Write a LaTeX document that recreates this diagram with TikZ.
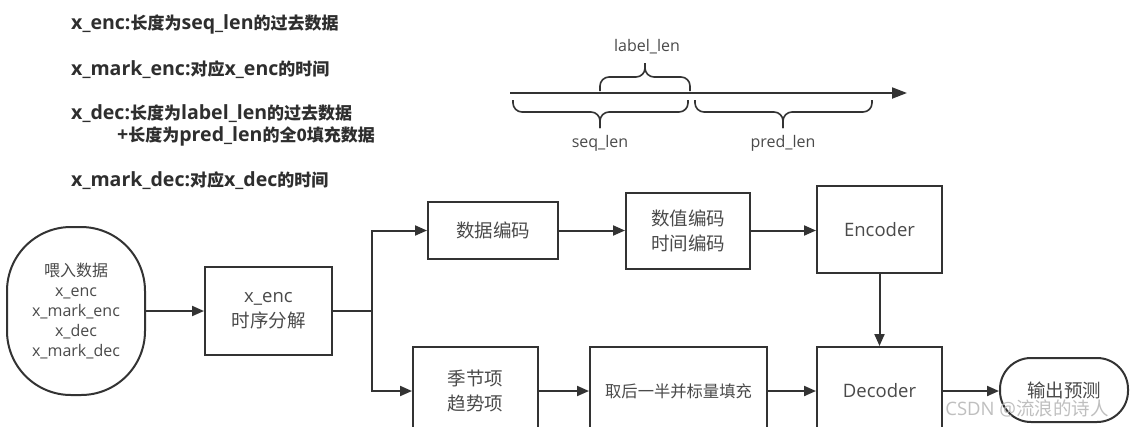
\documentclass[tikz,border=0pt]{standalone}
\usepackage{fontspec}
\setmainfont{Open Sans}
\newfontfamily\latw{Open Sans}[Scale=1.15]
\newfontfamily\cjk{Noto Sans CJK SC}
\newcommand\zh[1]{{\cjk #1}}
\usetikzlibrary{arrows.meta}
\definecolor{lc}{HTML}{333333}
\definecolor{tc}{HTML}{4A4A4A}
\definecolor{hc}{HTML}{2E2E2E}
\tikzset{
  every picture/.style={x=1pt,y=-1pt},
  box/.style={draw=lc, line width=2pt, text=tc, align=center, inner sep=0pt,
    font=\fontsize{18.5}{25}\selectfont},
  arr/.style={draw=lc, line width=2pt, -{Triangle[length=12pt,width=10pt]}},
  ln/.style={draw=lc, line width=2pt},
  brc/.style={draw=lc, line width=1.6pt, rounded corners=9pt},
  note/.style={anchor=west, text=hc, inner sep=0pt, font=\fontsize{17}{20}\selectfont\bfseries\latw},
  lbl/.style={text=tc, inner sep=0pt, font=\fontsize{16}{18}\selectfont},
}
\begin{document}
\begin{tikzpicture}
\useasboundingbox (0,0) rectangle (1139,426);
\clip (0,0) rectangle (1139,426);
\fill[white] (0,0) rectangle (1139,426);

% notes
\node[note] (n1) at (71,24) {x\_enc:\zh{长度为}seq\_len\zh{的过去数据}};
\node[note] (n2) at (71,70) {x\_mark\_enc:\zh{对应}x\_enc\zh{的时间}};
\node[note] (n3) at (71,114) {x\_dec:\zh{长度为}label\_len\zh{的过去数据}};
\node[note] (n4) at (117,136) {+\zh{长度为}pred\_len\zh{的全0填充数据}};
\node[note] (n5) at (71,181) {x\_mark\_dec:\zh{对应}x\_dec\zh{的时间}};

% timeline
\coordinate (t0) at (510,93);
\coordinate (t1) at (907,93);
\draw[draw=lc, line width=2pt, -{Triangle[length=15pt,width=11pt]}] (t0) -- (t1);
% label_len brace (above)
\draw[brc] (600,91) -- (600,77) -- (645,77) -- (645,63);
\draw[brc] (690,91) -- (690,77) -- (645,77) -- (645,63);
% seq_len brace (below)
\draw[brc] (513,100) -- (513,112) -- (600,112) -- (600,128);
\draw[brc] (688,100) -- (688,112) -- (600,112) -- (600,128);
% pred_len brace (below)
\draw[brc] (695,100) -- (695,112) -- (783,112) -- (783,128);
\draw[brc] (872,100) -- (872,112) -- (783,112) -- (783,128);
\node[lbl] (ll) at (647,47) {label\_len};
\node[lbl] (sl) at (600,143) {seq\_len};
\node[lbl] (pl) at (783,143) {pred\_len};

% flow nodes
\node[box, minimum width=138pt, minimum height=168pt, rounded corners=64pt,
  font=\fontsize{16}{20}\selectfont] (in) at (76,311)
  {\zh{喂入数据}\\x\_enc\\x\_mark\_enc\\x\_dec\\x\_mark\_dec};
\node[box, minimum width=127pt, minimum height=88pt] (sp) at (268.5,311) {x\_enc\\\zh{时序分解}};
\node[box, minimum width=130pt, minimum height=57pt] (sj) at (493,230.5) {\zh{数据编码}};
\node[box, minimum width=124pt, minimum height=76pt] (sz) at (688,231) {\zh{数值编码}\\\zh{时间编码}};
\node[box, minimum width=125pt, minimum height=87pt] (enc) at (879.5,229.5) {Encoder};
\node[box, minimum width=125pt, minimum height=88pt] (jj) at (475.5,391) {\zh{季节项}\\\zh{趋势项}};
\node[box, minimum width=177pt, minimum height=88pt, font=\fontsize{16.3}{20}\selectfont] (qh) at (678.5,391) {\zh{取后一半并标量填充}};
\node[box, minimum width=125pt, minimum height=88pt] (dec) at (879.5,391) {Decoder};
\node[box, minimum width=128pt, minimum height=64pt, rounded corners=31pt] (out) at (1064,390) {\zh{输出预测}};

% connectors
\draw[arr] (in.east) -- (sp.west);
\coordinate (j) at (372,311);
\draw[ln] (sp.east) -- (j);
\draw[arr] (j) |- (sj.west);
\draw[arr] (j) |- (jj.west);
\draw[arr] (sj.east) -- (sj.east -| sz.west);
\draw[arr] (sj.east -| sz.east) -- (sj.east -| enc.west);
\draw[arr] (enc) -- (dec);
\draw[arr] (jj) -- (qh);
\draw[arr] (qh) -- (dec);
\draw[arr] (dec) -- (dec -| out.west);

% watermark
\node[text=gray!50, inner sep=0pt, font=\fontsize{18.5}{20}\selectfont] (wm) at (1027,408) {CSDN @\zh{流浪的诗人}};
\end{tikzpicture}
\end{document}
